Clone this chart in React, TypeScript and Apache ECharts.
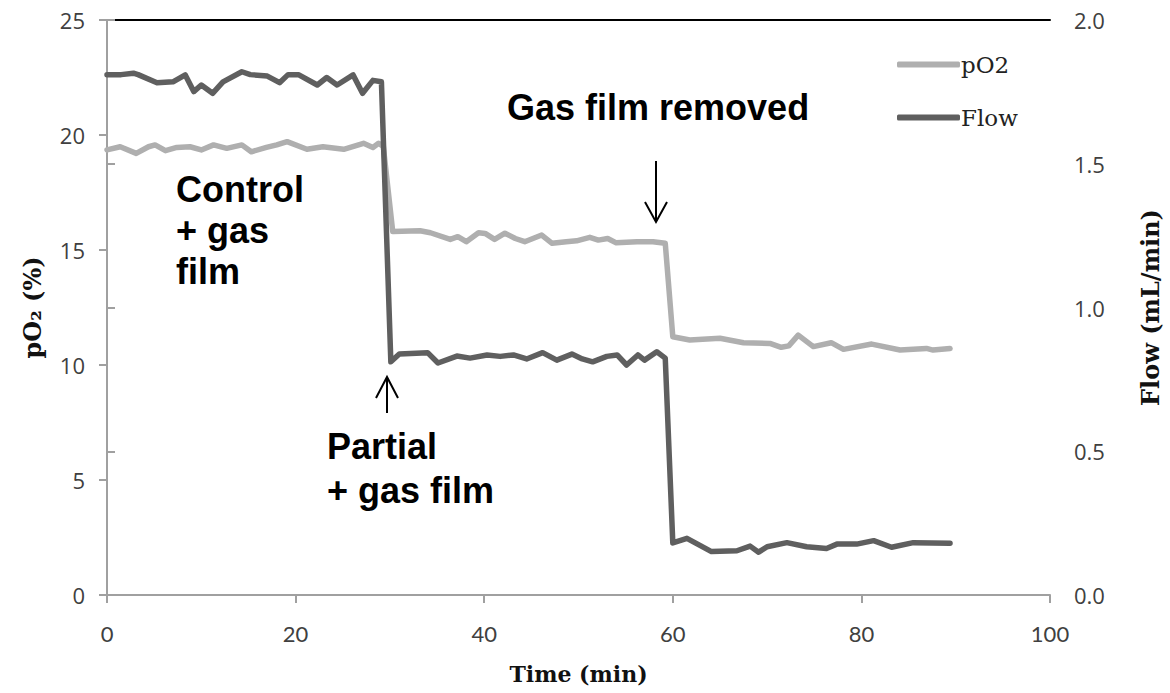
import React, { useEffect, useRef } from "react";
import * as echarts from "echarts";

const pO2Time = [0, 1.4, 3.1, 4.4, 5.1, 6.2, 7.4, 8.8, 10, 11.3, 12.7, 14.3, 15.3, 16.9, 18, 19.1, 21.2, 22.9, 25.1, 27.2, 28.2, 28.8, 29.3, 30.3, 33.2, 34.3, 36.4, 37.2, 38.1, 39.4, 40.1, 41.1, 42.2, 43.3, 44.3, 46.1, 47.2, 48.7, 49.8, 51.2, 52.1, 53.1, 54, 56.2, 57.9, 59.2, 60, 61.8, 65, 67.5, 70.3, 71.5, 72.3, 73.3, 74.9, 76.8, 78.1, 81.1, 84.1, 86.9, 87.6, 89.4];
const pO2Values = [19.35, 19.49, 19.2, 19.49, 19.57, 19.32, 19.46, 19.49, 19.35, 19.57, 19.42, 19.57, 19.27, 19.46, 19.57, 19.71, 19.38, 19.49, 19.38, 19.64, 19.46, 19.64, 19.5, 15.8, 15.84, 15.75, 15.46, 15.58, 15.36, 15.75, 15.72, 15.46, 15.73, 15.5, 15.36, 15.65, 15.29, 15.36, 15.4, 15.55, 15.43, 15.5, 15.31, 15.36, 15.36, 15.29, 11.23, 11.09, 11.16, 10.97, 10.94, 10.77, 10.83, 11.3, 10.8, 10.97, 10.68, 10.91, 10.65, 10.72, 10.65, 10.72];

const flowTime = [0, 1.5, 2.8, 3.3, 5.3, 7, 8.3, 9.2, 10, 11.2, 12.3, 14.3, 15.2, 17, 18.3, 19.2, 20.3, 22.3, 23.3, 24.4, 26.1, 27.1, 28.2, 29.1, 30.1, 31, 34, 35.1, 37.1, 38.5, 40.3, 41.7, 43.1, 44.5, 46.2, 47.7, 49.3, 50.4, 51.5, 53, 54.1, 55.1, 56.3, 57, 58.3, 59.2, 60, 61.5, 64.1, 66.8, 68.2, 69.1, 70, 72.1, 74.2, 76.3, 77.4, 79.5, 81.3, 83.2, 85.5, 89.4];
const flowValues = [1.81, 1.81, 1.815, 1.81, 1.782, 1.785, 1.809, 1.751, 1.774, 1.745, 1.785, 1.82, 1.81, 1.805, 1.782, 1.81, 1.81, 1.774, 1.8, 1.774, 1.809, 1.745, 1.79, 1.785, 0.811, 0.838, 0.843, 0.807, 0.831, 0.824, 0.835, 0.83, 0.835, 0.821, 0.843, 0.817, 0.838, 0.821, 0.811, 0.83, 0.835, 0.8, 0.835, 0.817, 0.846, 0.824, 0.181, 0.197, 0.151, 0.154, 0.17, 0.149, 0.168, 0.182, 0.168, 0.162, 0.177, 0.177, 0.189, 0.166, 0.182, 0.18];

const seriesNames = ["pO2", "Flow"];
const xAxisTitle = "Time (min)";
const leftAxisTitle = "pO₂ (%)";
const rightAxisTitle = "Flow (mL/min)";
const annotations = {
  removed: "Gas film removed",
  control: "Control\n+ gas\nfilm",
  partial: "Partial\n+ gas film",
};

const LIGHT = "#afafaf";
const DARK = "#5f5f5f";
const AXIS = "#a0a0a0";
const LABEL = "#404040";

export default function App() {
  const ref = useRef<HTMLDivElement>(null);
  useEffect(() => {
    document.body.style.margin = "0";
    const chart = echarts.init(ref.current!, null, { renderer: "svg" });
    const pO2Data = pO2Time.map((t, i) => [t, pO2Values[i]]);
    const flowData = flowTime.map((t, i) => [t, flowValues[i]]);
    const annoFont = {
      fontFamily: "Liberation Sans, Arial, sans-serif",
      fontWeight: "bold",
      fontSize: 36,
      fill: "#000",
    };
    const titleFont = {
      fontFamily: "DejaVu Serif, serif",
      fontWeight: "bold",
      color: "#111",
    };
    const arrowStyle = { stroke: "#000", lineWidth: 2, fill: "none" };
    chart.setOption({
      animation: false,
      backgroundColor: "#fff",
      grid: { left: 107, right: 119, top: 20, bottom: 98 },
      legend: {
        orient: "vertical",
        left: 892,
        top: 48,
        itemWidth: 63,
        itemHeight: 6,
        itemGap: 30,
        icon: "roundRect",
        data: seriesNames,
        textStyle: {
          fontFamily: "DejaVu Serif, serif",
          fontSize: 23,
          lineHeight: 22,
          color: "#222",
          padding: [0, 0, 0, -4],
        },
      },
      xAxis: [
        {
          type: "value",
          min: 0,
          max: 100,
          interval: 20,
          name: xAxisTitle,
          nameLocation: "middle",
          nameGap: 68,
          nameTextStyle: { ...titleFont, fontSize: 22 },
          axisLine: { show: true, lineStyle: { color: AXIS, width: 2 } },
          axisTick: { show: true, length: 8, lineStyle: { color: AXIS, width: 2 } },
          axisLabel: {
            margin: 27,
            fontFamily: "Liberation Sans Narrow, Lato, sans-serif",
            fontSize: 22,
            color: LABEL,
          },
          splitLine: { show: false },
        },
        {
          type: "value",
          position: "top",
          min: 0,
          max: 100,
          axisLine: { show: true, onZero: false, lineStyle: { color: "#000", width: 2 } },
          axisTick: { show: false },
          axisLabel: { show: false },
          splitLine: { show: false },
        },
      ],
      yAxis: [
        {
          type: "value",
          min: 0,
          max: 25,
          interval: 5,
          name: leftAxisTitle,
          nameLocation: "middle",
          nameRotate: 90,
          nameGap: 63,
          nameTextStyle: { ...titleFont, fontSize: 24 },
          axisLine: { show: true, lineStyle: { color: AXIS, width: 2 } },
          axisTick: { show: true, length: 8, lineStyle: { color: AXIS, width: 2 } },
          axisLabel: {
            margin: 22,
            fontFamily: "Open Sans, sans-serif",
            fontSize: 22,
            color: LABEL,
          },
          splitLine: { show: false },
        },
        {
          type: "value",
          position: "right",
          min: 0,
          max: 2,
          interval: 0.5,
          name: rightAxisTitle,
          nameLocation: "middle",
          nameRotate: 90,
          nameGap: 88,
          nameTextStyle: { ...titleFont, fontSize: 24 },
          axisLine: { show: true, lineStyle: { color: AXIS, width: 2 } },
          axisTick: { show: true, length: 8, lineStyle: { color: AXIS, width: 2 } },
          axisLabel: {
            margin: 24,
            fontFamily: "Open Sans, sans-serif",
            fontSize: 22,
            color: LABEL,
            formatter: (v: number) => v.toFixed(1),
          },
          splitLine: { show: false },
        },
      ],
      series: [
        {
          name: seriesNames[0],
          type: "line",
          xAxisIndex: 0,
          yAxisIndex: 0,
          data: pO2Data,
          showSymbol: false,
          symbol: "none",
          color: LIGHT,
          lineStyle: { color: LIGHT, width: 5.5, cap: "round", join: "round" },
        },
        {
          name: seriesNames[1],
          type: "line",
          xAxisIndex: 0,
          yAxisIndex: 1,
          data: flowData,
          showSymbol: false,
          symbol: "none",
          color: DARK,
          lineStyle: { color: DARK, width: 5.5, cap: "round", join: "round" },
        },
      ],
      graphic: [
        {
          type: "text",
          left: 507,
          top: 86,
          style: { ...annoFont, text: annotations.removed, lineHeight: 42 },
        },
        {
          type: "text",
          left: 176,
          top: 169,
          style: { ...annoFont, text: annotations.control, lineHeight: 41 },
        },
        {
          type: "text",
          left: 327,
          top: 424,
          style: { ...annoFont, text: annotations.partial, lineHeight: 44 },
        },
        { type: "line", shape: { x1: 656, y1: 161, x2: 656, y2: 222 }, style: arrowStyle },
        {
          type: "polyline",
          shape: { points: [[645, 202], [656, 222], [667, 202]] },
          style: arrowStyle,
        },
        { type: "line", shape: { x1: 387, y1: 377, x2: 387, y2: 413 }, style: arrowStyle },
        {
          type: "polyline",
          shape: { points: [[376, 398], [387, 377], [398, 398]] },
          style: arrowStyle,
        },
      ],
    });
    return () => chart.dispose();
  }, []);
  return <div ref={ref} style={{ width: 1170, height: 693 }} />;
}
